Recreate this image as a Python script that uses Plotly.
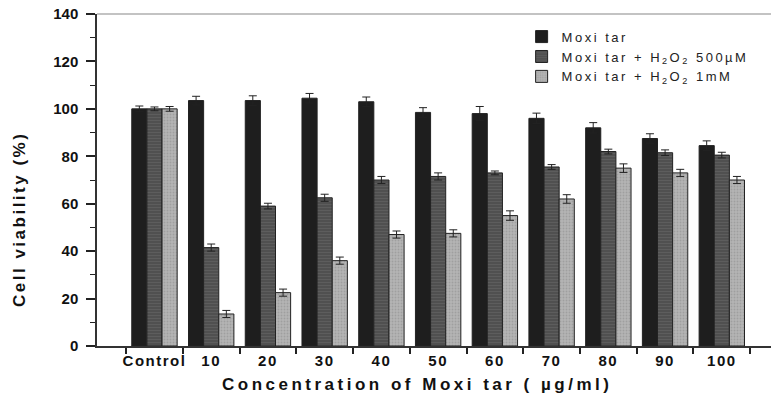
import plotly.graph_objects as go

categories = ["Control", "10", "20", "30", "40", "50", "60", "70", "80", "90", "100"]
series_names = ["Moxi tar", "Moxi tar + H<sub>2</sub>O<sub>2</sub> 500µM", "Moxi tar + H<sub>2</sub>O<sub>2</sub> 1mM"]
moxi = [100, 103.5, 103.5, 104.5, 103, 98.5, 98, 96, 92, 87.5, 84.5]
moxi_err = [1.2, 1.8, 2.0, 2.0, 2.0, 2.0, 3.0, 2.2, 2.2, 2.0, 2.0]
h2o2_500 = [100, 41.5, 59, 62.5, 70, 71.5, 73, 75.5, 82, 81.5, 80.5]
h2o2_500_err = [0.8, 1.5, 1.2, 1.5, 1.5, 1.5, 0.8, 1.0, 1.0, 1.2, 1.2]
h2o2_1mm = [100, 13.5, 22.5, 36, 47, 47.5, 55, 62, 75, 73, 70]
h2o2_1mm_err = [1.0, 1.5, 1.5, 1.5, 1.5, 1.5, 2.0, 1.8, 1.8, 1.5, 1.5]
x_title = "Concentration of Moxi tar ( µg/ml)"
y_title = "Cell viability (%)"

font_family = "Liberation Sans, Arial, sans-serif"

def spaced(t, px):
    return '<span style="letter-spacing:%spx">%s</span>' % (px, t)

fig = go.Figure()
styles = [
    dict(color="#1e1e1e", pattern=dict(shape="")),
    dict(color="#505050", pattern=dict(shape="-", fgcolor="#6a6a6a", size=3, solidity=0.35)),
    dict(color="#b4b4b4", pattern=dict(shape=".", fgcolor="#8a8a8a", size=3, solidity=0.3)),
]
for name, vals, errs, st in zip(series_names, [moxi, h2o2_500, h2o2_1mm],
                                [moxi_err, h2o2_500_err, h2o2_1mm_err], styles):
    fig.add_trace(go.Bar(
        x=categories, y=vals,
        name=spaced(name, 2.5),
        marker=dict(color=st["color"], pattern=st["pattern"],
                    line=dict(color="#222222", width=1)),
        error_y=dict(type="data", array=errs, visible=True, color="#222222",
                     thickness=1, width=4),
    ))

fig.update_layout(
    width=771, height=411,
    margin=dict(l=97, r=0, t=14, b=65),
    paper_bgcolor="white", plot_bgcolor="white",
    barmode="group", bargap=0.2, bargroupgap=0,
    font=dict(family=font_family, color="#111111"),
    showlegend=True,
    legend=dict(
        x=0.63, y=0.977, xanchor="left", yanchor="top",
        bgcolor="rgba(0,0,0,0)",
        font=dict(size=13, family=font_family, color="#222222"),
        itemwidth=30, tracegroupgap=0,
    ),
)

fig.update_xaxes(
    type="category",
    range=[-1.013, 10.867],
    tickson="boundaries", tickangle=0, automargin=False,
    tickmode="array", tickvals=categories,
    ticktext=[spaced(c, 1.5) for c in categories],
    ticks="outside", ticklen=6, tickwidth=1.5, tickcolor="#222222",
    showline=True, linecolor="#333333", linewidth=1.5, mirror=False,
    showgrid=False,
    tickfont=dict(size=15, family=font_family, color="#111111", weight="bold"),
)
fig.update_yaxes(
    range=[0, 140], dtick=20, automargin=False,
    ticks="outside", ticklen=9, tickwidth=1.5, tickcolor="#222222",
    ticklabelstandoff=5,
    minor=dict(ticks="outside", ticklen=5, dtick=10, tickcolor="#222222", tickwidth=1.2),
    showline=True, linecolor="#333333", linewidth=1.5,
    showgrid=False, zeroline=False,
    tickfont=dict(size=15, family=font_family, color="#111111", weight="bold"),
)
# axis titles placed as annotations (offset from axis centre as in reference)
fig.add_annotation(text=spaced(x_title, 3.5), xref="paper", yref="paper",
                   x=0.475, y=-0.115, xanchor="center", yanchor="middle", showarrow=False,
                   font=dict(size=17, family=font_family, color="#111111", weight="bold"))
fig.add_annotation(text=spaced(y_title, 2.5), xref="paper", yref="paper",
                   x=-0.114, y=0.38, xanchor="center", yanchor="middle", showarrow=False,
                   textangle=-90,
                   font=dict(size=17, family=font_family, color="#111111", weight="bold"))
# top frame line
fig.add_shape(type="line", xref="paper", yref="paper", x0=0, x1=1, y0=1, y1=1,
              line=dict(color="#888888", width=1.2))

fig.write_html("out.html", config={"displayModeBar": False},
               post_script="document.body.style.margin='0';")
